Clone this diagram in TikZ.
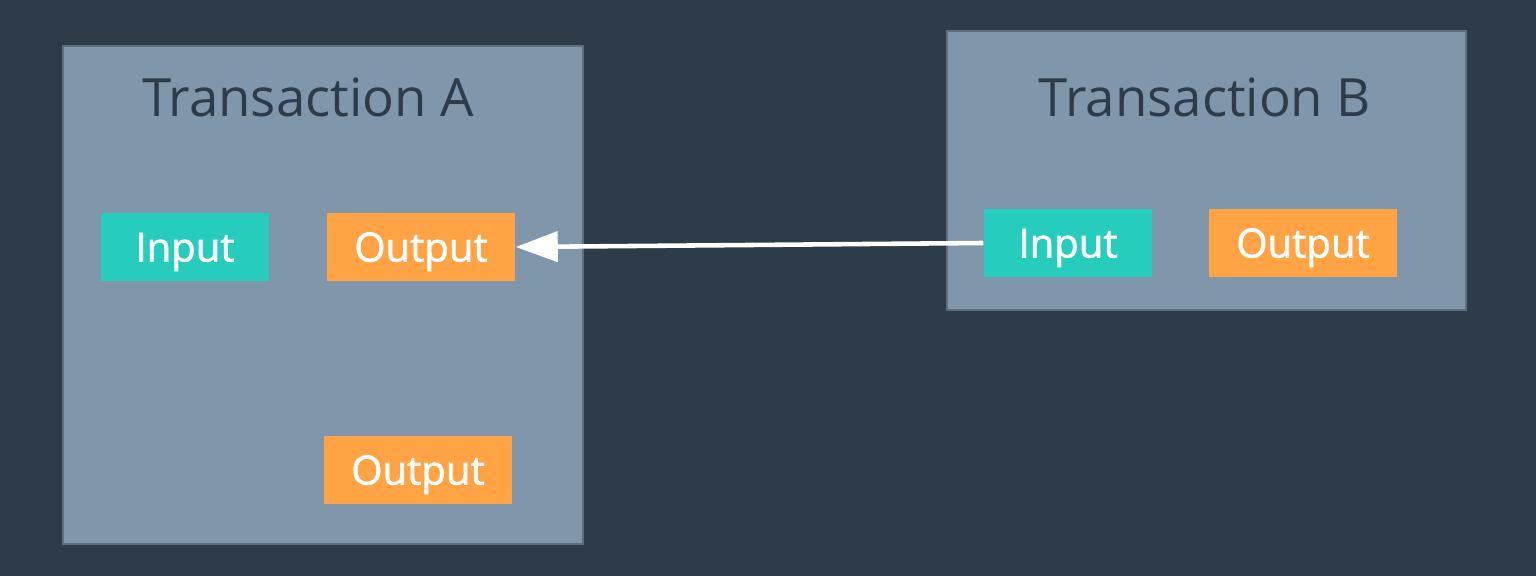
\documentclass[tikz,border=0pt]{standalone}
\usepackage{fontspec}
\setmainfont{Open Sans}
\newfontfamily\tagfont[FakeBold=1.6]{Open Sans}
\usepackage{xcolor}
\usepackage{tikz}
\usetikzlibrary{arrows.meta,positioning}

\definecolor{bgdark}{HTML}{2E3B48}
\definecolor{txfill}{HTML}{7F96AB}
\definecolor{txline}{HTML}{5F6E7D}
\definecolor{inteal}{HTML}{26CDBC}
\definecolor{outorange}{HTML}{FFA345}

\begin{document}
\begin{tikzpicture}[x=0.01cm, y=-0.01cm,
  txbox/.style={rectangle, draw=txline, line width=0.6pt, fill=txfill, anchor=north west, inner sep=0pt},
  title/.style={text=bgdark, font=\fontsize{15}{18}\selectfont},
  inbox/.style={rectangle, fill=inteal, text=white, minimum width=1.68cm, minimum height=0.68cm, inner sep=0pt, text height=0.29cm, text depth=0pt, font=\tagfont\fontsize{11.4}{14}\selectfont},
  outbox/.style={rectangle, fill=outorange, text=white, minimum width=1.88cm, minimum height=0.68cm, inner sep=0pt, text height=0.29cm, text depth=0pt, font=\tagfont\fontsize{11.4}{14}\selectfont},
  arrow/.style={draw=white, line width=1.3pt, -{Triangle[length=0.42cm,width=0.3cm]}}
]
\useasboundingbox[fill=bgdark] (0,0) rectangle (1536,576);

% Transactions
\node[txbox, minimum width=5.2cm, minimum height=4.98cm] (txA) at (62,45) {};
\node[txbox, minimum width=5.19cm, minimum height=2.79cm] (txB) at (946,30) {};
\node[title] (titleA) at (308,97) {Transaction A};
\node[title] (titleB) at (1205,97) {Transaction B};

% Transaction A parts
\node[inbox] (inA) at (185,247) {Input};
\node[outbox] (outA) at (421,247) {Output};
\node[outbox] (outA2) at (418,470) {Output};

% Transaction B parts
\node[inbox] (inB) at (1068,243) {Input};
\node[outbox] (outB) at (1303,243) {Output};

% Spending link
\draw[arrow] (inB.west) -- (outA.east);

\end{tikzpicture}
\end{document}
